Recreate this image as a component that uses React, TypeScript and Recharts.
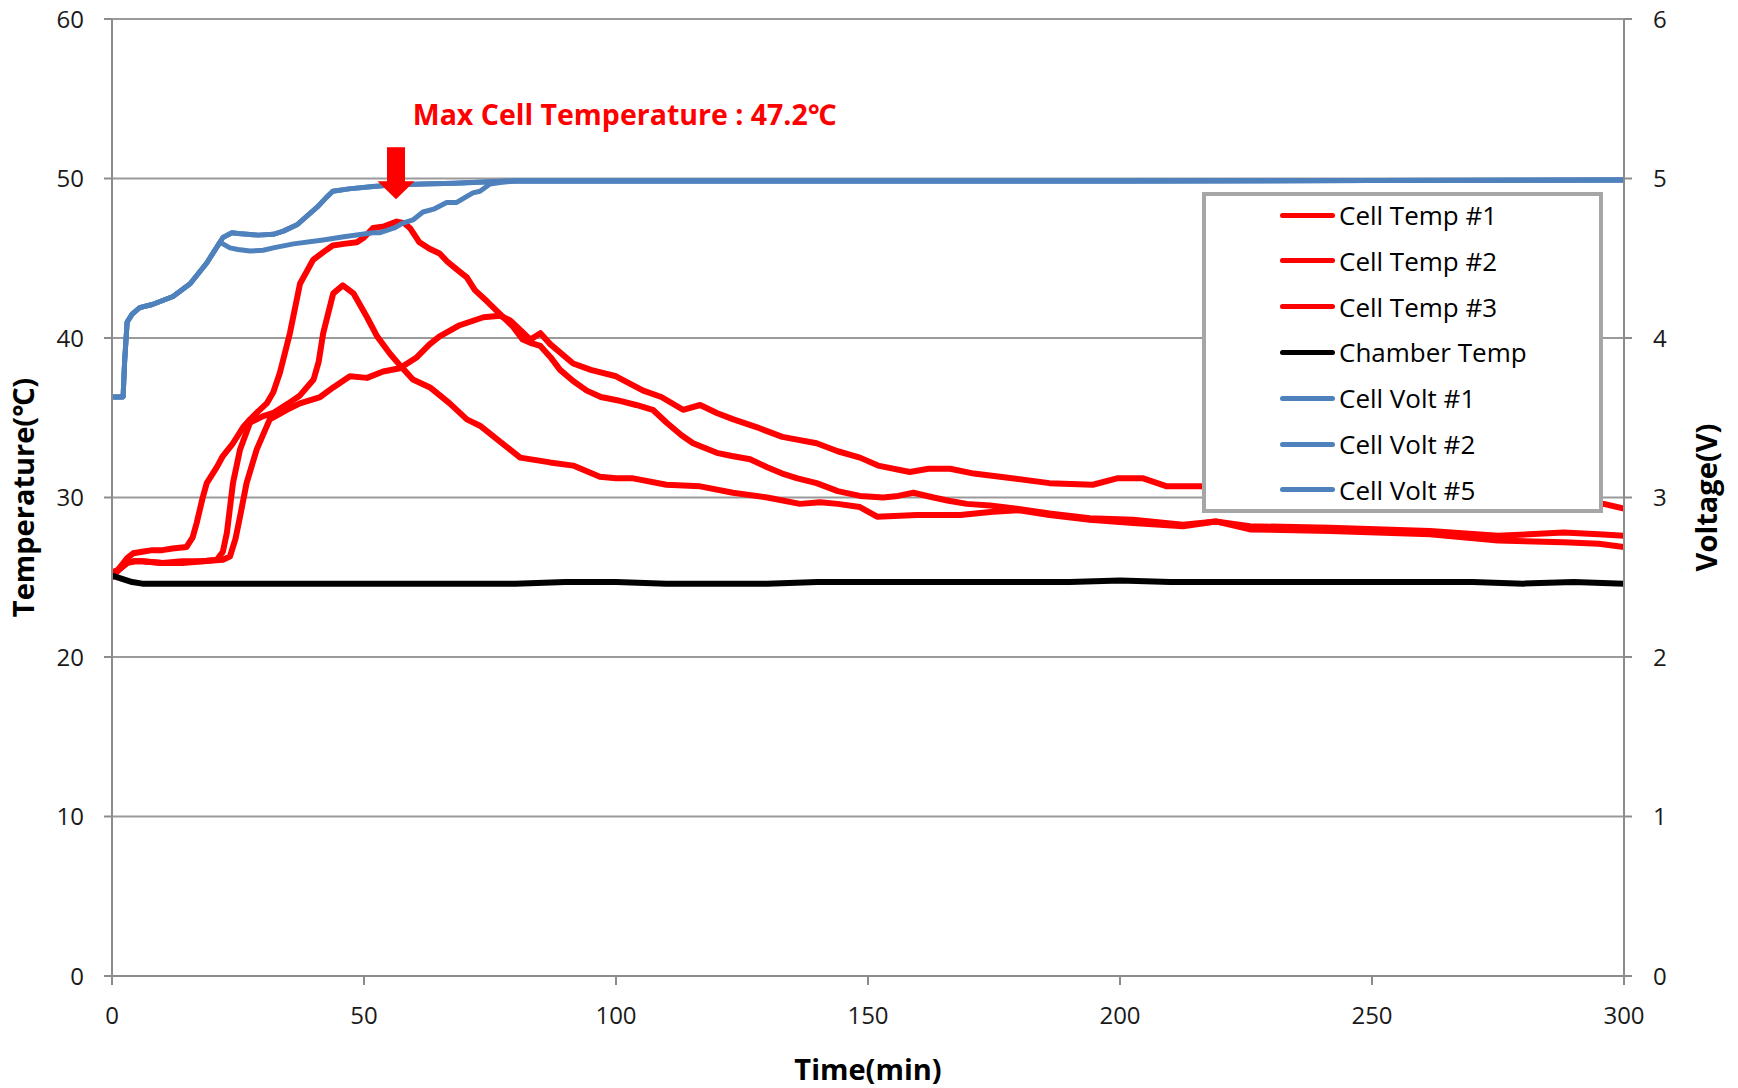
import React from 'react';
import { LineChart, Line, XAxis, YAxis, CartesianGrid, Legend, ReferenceDot, Label } from 'recharts';

const FONT = '"Open Sans", "Noto Sans", "Noto Sans CJK KR", sans-serif';

// ---- tick labels ----
const timeTicks = [0, 50, 100, 150, 200, 250, 300];
const tempTicks = [0, 10, 20, 30, 40, 50, 60];
const voltTicks = [0, 1, 2, 3, 4, 5, 6];

// ---- Cell Temp #1 (°C) ----
const cellTemp1Time = [0, 1, 2, 3, 4.2, 6, 8, 10, 12, 14.8, 16, 16.8, 18, 18.8, 20.8, 22, 24, 26, 27.4, 29, 30.7, 32, 33.3, 35.3, 37.3, 39.9, 42, 43.8, 46, 48.6, 50, 51.8, 54, 56.5, 58, 59.1, 61, 63, 65, 66.5, 68.4, 70.4, 72, 74.4, 77, 79.6, 81.5, 83, 85, 87, 88.9, 91.5, 94.2, 97, 100.2, 104, 107.3, 110, 113, 115.3, 120, 123, 126.6, 130, 133, 136, 139.8, 144, 148.4, 153, 156, 159, 163, 166, 169.6, 174.2, 179.5, 186, 194, 202.6, 212.5, 219, 225.8, 241.7, 261.5, 275, 288, 295, 300];
const cellTemp1 = [25.3, 25.4, 25.8, 26.2, 26.5, 26.6, 26.7, 26.7, 26.8, 26.9, 27.5, 28.4, 30.0, 30.9, 31.9, 32.6, 33.4, 34.4, 34.9, 35.4, 35.9, 36.6, 37.8, 40.3, 43.4, 44.9, 45.4, 45.8, 45.9, 46.0, 46.3, 46.9, 47.0, 47.3, 47.2, 46.9, 46.0, 45.6, 45.3, 44.8, 44.3, 43.8, 43.0, 42.3, 41.5, 40.7, 39.9, 39.7, 39.5, 38.8, 38.0, 37.3, 36.7, 36.3, 36.1, 35.8, 35.5, 34.7, 33.9, 33.4, 32.8, 32.6, 32.4, 31.9, 31.5, 31.2, 30.9, 30.4, 30.1, 30.0, 30.1, 30.3, 30.0, 29.8, 29.6, 29.5, 29.3, 29.0, 28.7, 28.6, 28.3, 28.5, 28.2, 28.1, 27.9, 27.6, 27.8, 27.7, 27.6];

// ---- Cell Temp #2 (°C) ----
const cellTemp2Time = [0, 1.5, 3, 4.5, 6, 10, 14, 18, 20.8, 22, 22.8, 24, 25.4, 27.4, 30, 32, 35, 37.3, 40, 41, 41.9, 43.9, 45.8, 47.9, 50.6, 52.6, 55.2, 57.1, 59.7, 63.1, 67, 70.4, 73, 75, 79, 81, 86.9, 91.5, 96.8, 100, 103.4, 110, 116.7, 123.2, 130, 136.5, 140.5, 144, 148.4, 151.8, 159.7, 168.3, 174.8, 180, 186, 194, 202.6, 212.5, 219, 225.8, 241.7, 261.5, 275, 288, 295, 300];
const cellTemp2 = [25.3, 25.5, 25.9, 26.0, 26.0, 25.9, 26.0, 26.0, 26.1, 26.6, 27.8, 30.9, 33.0, 34.7, 35.1, 35.3, 35.9, 36.4, 37.4, 38.5, 40.3, 42.8, 43.3, 42.8, 41.3, 40.1, 39.0, 38.3, 37.4, 36.9, 35.9, 34.9, 34.5, 34.0, 33.0, 32.5, 32.2, 32.0, 31.3, 31.2, 31.2, 30.8, 30.7, 30.3, 30.0, 29.6, 29.7, 29.6, 29.4, 28.8, 28.9, 28.9, 29.1, 29.2, 28.9, 28.6, 28.4, 28.2, 28.5, 28.0, 27.9, 27.7, 27.3, 27.2, 27.1, 26.9];

// ---- Cell Temp #3 (°C) ----
const cellTemp3Time = [0, 1.5, 3, 4.5, 6, 10, 14, 18, 22, 23.4, 24.5, 25.4, 26.7, 28.7, 31.3, 34.7, 37.3, 41.3, 43.9, 47.2, 50.6, 53.8, 57.1, 60.5, 63, 65, 69, 73.7, 77, 79, 81, 83, 85, 87, 91.5, 95, 100, 105.4, 109, 113.3, 116.7, 120, 123.3, 128, 133, 139.8, 144, 148.4, 152, 158.3, 162, 166.3, 171, 176.2, 186, 194.6, 199.4, 204.6, 209.3, 215.9, 230, 250, 270, 290, 296, 300];
const cellTemp3 = [25.0, 25.5, 25.9, 26.0, 26.0, 25.9, 25.9, 26.0, 26.1, 26.3, 27.4, 28.8, 30.9, 33.0, 34.9, 35.5, 35.9, 36.3, 36.9, 37.6, 37.5, 37.9, 38.1, 38.8, 39.6, 40.1, 40.8, 41.3, 41.4, 41.1, 40.5, 39.9, 40.3, 39.6, 38.4, 38.0, 37.6, 36.7, 36.3, 35.5, 35.8, 35.3, 34.9, 34.4, 33.8, 33.4, 32.9, 32.5, 32.0, 31.6, 31.8, 31.8, 31.5, 31.3, 30.9, 30.8, 31.2, 31.2, 30.7, 30.7, 30.5, 30.2, 30.0, 29.7, 29.6, 29.3];

// ---- Chamber Temp (°C) ----
const chamberTime = [0, 2, 4, 6, 10, 20, 30, 40, 50, 60, 70, 80, 90, 100, 110, 120, 130, 140, 150, 160, 170, 180, 190, 200, 210, 220, 230, 240, 250, 260, 270, 280, 290, 300];
const chamberTemp = [25.1, 24.9, 24.7, 24.6, 24.6, 24.6, 24.6, 24.6, 24.6, 24.6, 24.6, 24.6, 24.7, 24.7, 24.6, 24.6, 24.6, 24.7, 24.7, 24.7, 24.7, 24.7, 24.7, 24.8, 24.7, 24.7, 24.7, 24.7, 24.7, 24.7, 24.7, 24.6, 24.7, 24.6];

// ---- Cell Volt #1 (V) ----
const cellVolt1Time = [0, 2.2, 2.5, 3, 4, 5.5, 8, 12.1, 15.5, 18.8, 21.4, 22, 23.8, 25, 26.8, 29, 32, 34, 36.7, 38.5, 40.7, 42.5, 43.8, 47, 51.8, 56, 61.7, 68, 75, 80, 100, 150, 200, 250, 300];
const cellVolt1 = [3.63, 3.63, 3.85, 4.10, 4.15, 4.19, 4.21, 4.26, 4.34, 4.47, 4.60, 4.63, 4.66, 4.655, 4.65, 4.645, 4.65, 4.67, 4.71, 4.76, 4.82, 4.88, 4.92, 4.935, 4.95, 4.96, 4.965, 4.97, 4.98, 4.985, 4.985, 4.985, 4.985, 4.987, 4.99];

// ---- Cell Volt #2 (V) ----
const cellVolt2Time = [0, 2.2, 2.5, 3, 4, 5.5, 8, 12.1, 15.5, 18.8, 21.4, 22, 23.8, 25, 26.8, 29, 32, 34, 36.7, 38.5, 40.7, 42.5, 43.8, 47, 51.8, 56, 61.7, 68, 75, 80, 100, 150, 200, 250, 300];
const cellVolt2 = [3.63, 3.63, 3.85, 4.10, 4.15, 4.19, 4.21, 4.26, 4.34, 4.47, 4.60, 4.63, 4.66, 4.655, 4.65, 4.645, 4.65, 4.67, 4.71, 4.76, 4.82, 4.88, 4.92, 4.935, 4.95, 4.96, 4.965, 4.97, 4.98, 4.985, 4.985, 4.985, 4.985, 4.987, 4.99];

// ---- Cell Volt #5 (V) ----
const cellVolt5Time = [0, 2.2, 2.5, 3, 4, 5.5, 8, 12.1, 15.5, 18.8, 21.4, 22, 23.4, 25, 27.4, 30, 32, 36, 41.9, 46, 51.8, 53.2, 56, 57.7, 59.7, 61.7, 64, 66.4, 68.4, 70, 71.6, 73, 75, 77, 80, 100, 150, 200, 250, 300];
const cellVolt5 = [3.63, 3.63, 3.85, 4.10, 4.15, 4.19, 4.21, 4.26, 4.34, 4.47, 4.60, 4.59, 4.565, 4.555, 4.545, 4.55, 4.565, 4.59, 4.615, 4.635, 4.66, 4.66, 4.69, 4.72, 4.74, 4.79, 4.81, 4.85, 4.85, 4.88, 4.91, 4.92, 4.965, 4.975, 4.985, 4.985, 4.985, 4.985, 4.987, 4.99];

// ---- legend ----
const legendNames = ['Cell Temp #1', 'Cell Temp #2', 'Cell Temp #3', 'Chamber Temp', 'Cell Volt #1', 'Cell Volt #2', 'Cell Volt #5'];
const legendColors = ['#FF0000', '#FF0000', '#FF0000', '#000000', '#4F81BD', '#4F81BD', '#4F81BD'];

// ---- annotation ----
const maxLabel = 'Max Cell Temperature : 47.2℃';
const maxLabelTime = 101.7;
const maxLabelTemp = 53.35;
const arrowTime = 56.35;
const arrowTipTemp = 48.7;

const toPoints = (ts: number[], vs: number[]) => ts.map((t, i) => ({ t, v: vs[i] }));

const RED = '#FF0000';
const BLUE = '#4F81BD';
const AXIS = '#8C8C8C';
const GRID = '#9A9A9A';

const ArrowShape = (p: any) => {
  const { cx, cy } = p;
  if (cx == null || cy == null) return null;
  return (
    <g>
      <rect x={cx - 9} y={cy - 52} width={18} height={35} fill={RED} />
      <polygon points={`${cx - 18.5},${cy - 18} ${cx + 18.5},${cy - 18} ${cx},${cy}`} fill={RED} />
    </g>
  );
};

const TextShape = (p: any) => {
  const { cx, cy } = p;
  if (cx == null || cy == null) return null;
  return (
    <text x={cx} y={cy} textAnchor="middle" fill={RED} fontFamily={FONT} fontWeight={700} fontSize={28.5}>
      {maxLabel}
    </text>
  );
};

const LeftTitle = (props: any) => {
  const vb = props.viewBox || {};
  const x = (vb.x ?? 0) + 22;
  const y = (vb.y ?? 19) + (vb.height ?? 957) / 2;
  return (
    <text x={x} y={y} transform={`rotate(-90 ${x} ${y})`} textAnchor="middle" dominantBaseline="central" fontFamily={FONT} fontWeight={700} fontSize={29} fill="#000">
      Temperature(℃)
    </text>
  );
};

const RightTitle = (props: any) => {
  const vb = props.viewBox || {};
  const x = (vb.x ?? 1624) + 81;
  const y = (vb.y ?? 19) + (vb.height ?? 957) / 2;
  return (
    <text x={x} y={y} transform={`rotate(-90 ${x} ${y})`} textAnchor="middle" dominantBaseline="central" fontFamily={FONT} fontWeight={700} fontSize={29} fill="#000">
      Voltage(V)
    </text>
  );
};

const BottomTitle = (props: any) => {
  const vb = props.viewBox || {};
  const x = (vb.x ?? 112) + (vb.width ?? 1512) / 2;
  const y = (vb.y ?? 976) + 92;
  return (
    <text x={x} y={y} textAnchor="middle" dominantBaseline="central" fontFamily={FONT} fontWeight={700} fontSize={29} fill="#000">
      Time(min)
    </text>
  );
};

const LegendBox = () => (
  <div
    style={{
      position: 'relative',
      boxSizing: 'border-box',
      width: 401,
      height: 321,
      border: '4px solid #A6A6A6',
      background: '#FFFFFF',
    }}
  >
    {legendNames.map((n, i) => (
      <div
        key={n}
        style={{
          position: 'absolute',
          left: 0,
          top: 19 + i * 45.8 - 15,
          height: 30,
          display: 'flex',
          alignItems: 'center',
        }}
      >
        <span style={{ display: 'inline-block', marginLeft: 74, width: 55, height: 5, borderRadius: 3, background: legendColors[i] }} />
        <span style={{ marginLeft: 4, fontFamily: FONT, fontSize: 26, lineHeight: '30px', color: '#000', whiteSpace: 'nowrap' }}>{n}</span>
      </div>
    ))}
  </div>
);

const tickStyle = { fontFamily: FONT, fontSize: 24, fill: '#1A1A1A' };

export default function App() {
  return (
    <div style={{ position: 'absolute', left: 0, top: 0, width: 1738, height: 1088, background: '#FFFFFF' }}>
      <LineChart width={1738} height={1088} margin={{ top: 19, right: 0, bottom: 0, left: 0 }}>
        <CartesianGrid yAxisId="temp" vertical={false} stroke={GRID} strokeWidth={2} />
        <XAxis
          type="number"
          dataKey="t"
          domain={[0, 300]}
          ticks={timeTicks}
          height={112}
          allowDataOverflow
          tick={tickStyle}
          tickSize={9}
          tickMargin={22}
          axisLine={{ stroke: AXIS, strokeWidth: 2 }}
          tickLine={{ stroke: AXIS, strokeWidth: 2 }}
        >
          <Label content={BottomTitle} />
        </XAxis>
        <YAxis
          yAxisId="temp"
          orientation="left"
          type="number"
          domain={[0, 60]}
          ticks={tempTicks}
          width={112}
          allowDataOverflow
          tick={tickStyle}
          tickSize={8}
          tickMargin={20}
          axisLine={{ stroke: AXIS, strokeWidth: 2 }}
          tickLine={{ stroke: AXIS, strokeWidth: 2 }}
        >
          <Label content={LeftTitle} />
        </YAxis>
        <YAxis
          yAxisId="volt"
          orientation="right"
          type="number"
          domain={[0, 6]}
          ticks={voltTicks}
          width={114}
          allowDataOverflow
          tick={{ ...tickStyle, textAnchor: 'start' }}
          tickSize={8}
          tickMargin={21}
          axisLine={{ stroke: AXIS, strokeWidth: 2 }}
          tickLine={{ stroke: AXIS, strokeWidth: 2 }}
        >
          <Label content={RightTitle} />
        </YAxis>

        <Line data={toPoints(cellTemp1Time, cellTemp1)} dataKey="v" name="Cell Temp #1" yAxisId="temp" type="linear" stroke={RED} strokeWidth={6} strokeLinejoin="round" strokeLinecap="round" dot={false} activeDot={false} isAnimationActive={false} />
        <Line data={toPoints(cellTemp2Time, cellTemp2)} dataKey="v" name="Cell Temp #2" yAxisId="temp" type="linear" stroke={RED} strokeWidth={6} strokeLinejoin="round" strokeLinecap="round" dot={false} activeDot={false} isAnimationActive={false} />
        <Line data={toPoints(cellTemp3Time, cellTemp3)} dataKey="v" name="Cell Temp #3" yAxisId="temp" type="linear" stroke={RED} strokeWidth={6} strokeLinejoin="round" strokeLinecap="round" dot={false} activeDot={false} isAnimationActive={false} />
        <Line data={toPoints(chamberTime, chamberTemp)} dataKey="v" name="Chamber Temp" yAxisId="temp" type="linear" stroke="#000000" strokeWidth={6} strokeLinejoin="round" strokeLinecap="round" dot={false} activeDot={false} isAnimationActive={false} />
        <Line data={toPoints(cellVolt1Time, cellVolt1)} dataKey="v" name="Cell Volt #1" yAxisId="volt" type="linear" stroke={BLUE} strokeWidth={5} strokeLinejoin="round" strokeLinecap="round" dot={false} activeDot={false} isAnimationActive={false} />
        <Line data={toPoints(cellVolt2Time, cellVolt2)} dataKey="v" name="Cell Volt #2" yAxisId="volt" type="linear" stroke={BLUE} strokeWidth={5} strokeLinejoin="round" strokeLinecap="round" dot={false} activeDot={false} isAnimationActive={false} />
        <Line data={toPoints(cellVolt5Time, cellVolt5)} dataKey="v" name="Cell Volt #5" yAxisId="volt" type="linear" stroke={BLUE} strokeWidth={5} strokeLinejoin="round" strokeLinecap="round" dot={false} activeDot={false} isAnimationActive={false} />

        <ReferenceDot yAxisId="temp" x={arrowTime} y={arrowTipTemp} r={0} shape={ArrowShape} />
        <ReferenceDot yAxisId="temp" x={maxLabelTime} y={maxLabelTemp} r={0} shape={TextShape} />

        <Legend
          layout="vertical"
          align="center"
          verticalAlign="middle"
          width={401}
          height={321}
          wrapperStyle={{ left: 1202, top: 192, width: 401, height: 321 }}
          content={LegendBox}
        />
      </LineChart>
    </div>
  );
}
